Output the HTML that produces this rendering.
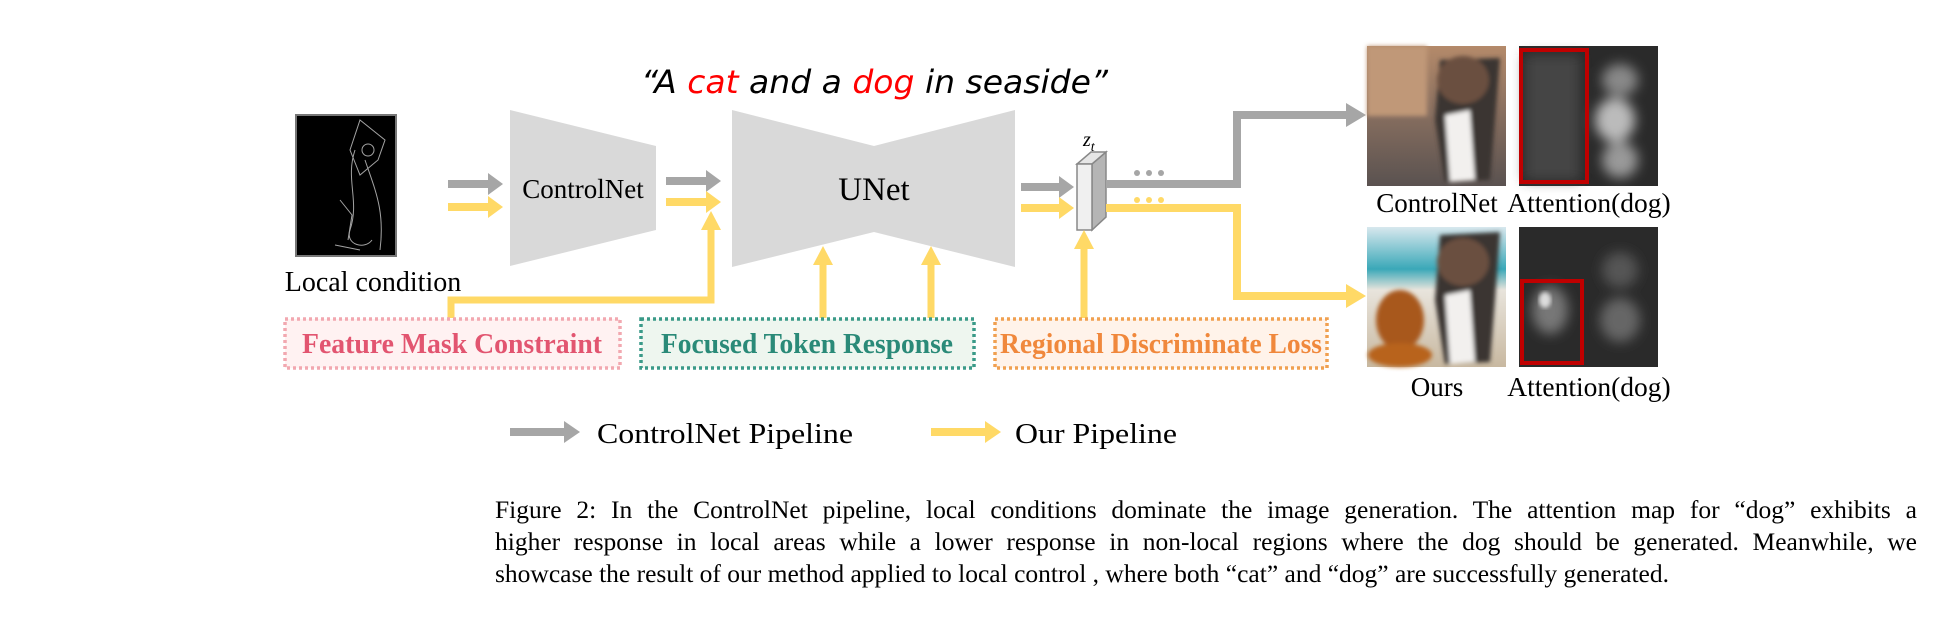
<!DOCTYPE html>
<html><head><meta charset="utf-8"><style>
html,body{margin:0;padding:0;background:#fff;}
#w{position:relative;width:1953px;height:618px;overflow:hidden;}
.cap{position:absolute;left:495px;width:1422px;font-family:"Liberation Serif",serif;font-size:25.5px;color:#000;white-space:nowrap;}
.j{text-align:justify;text-align-last:justify;white-space:normal;}
</style></head><body><div id="w">
<svg width="1953" height="618" viewBox="0 0 1953 618" xmlns="http://www.w3.org/2000/svg" style="position:absolute;left:0;top:0">
<defs>
<filter id="bl" x="-20%" y="-20%" width="140%" height="140%"><feGaussianBlur stdDeviation="6"/></filter>
<filter id="bl2"><feGaussianBlur stdDeviation="2"/></filter>
<linearGradient id="sand" x1="0" y1="0" x2="0" y2="1"><stop offset="0" stop-color="#b48a6a"/><stop offset="0.45" stop-color="#8a7060"/><stop offset="1" stop-color="#5a5250"/></linearGradient>
<linearGradient id="beach" x1="0" y1="0" x2="0" y2="1"><stop offset="0" stop-color="#d8e8ee"/><stop offset="0.3" stop-color="#3aa8b8"/><stop offset="0.45" stop-color="#e8e4dc"/><stop offset="1" stop-color="#c8b8a0"/></linearGradient>
</defs>
<text x="641" y="93" font-family="DejaVu Sans, sans-serif" font-style="oblique" font-size="32" textLength="467" lengthAdjust="spacingAndGlyphs">“A <tspan fill="#ff0000">cat</tspan> and a <tspan fill="#ff0000">dog</tspan> in seaside”</text>
<rect x="296" y="115" width="100" height="141" fill="#000" stroke="#777" stroke-width="2"/>
<g stroke="#ccc" stroke-width="1" fill="none" opacity="0.8">
<path d="M360 120 L385 140 L378 160 L360 175 L350 150 Z"/><path d="M355 150 C345 180 360 200 350 230 C345 245 365 250 372 240"/><path d="M365 160 C375 190 385 210 380 250"/><circle cx="368" cy="150" r="6"/><path d="M340 200 L352 215 L348 240"/><path d="M335 245 L360 250"/>
</g>
<text x="373" y="291" font-family="Liberation Serif, serif" font-size="28" text-anchor="middle">Local condition</text>
<g fill="#a6a6a6"><rect x="448" y="180" width="42" height="8"/><polygon points="488,173 503,184 488,195"/></g>
<g fill="#ffd966"><rect x="448" y="203" width="42" height="8"/><polygon points="488,196 503,207 488,218"/></g>
<polygon points="510,110 656,146 656,230 510,266" fill="#d9d9d9"/>
<text x="583" y="198" font-family="Liberation Serif, serif" font-size="27" text-anchor="middle">ControlNet</text>
<g fill="#a6a6a6"><rect x="666" y="177" width="42" height="8"/><polygon points="706,170 721,181 706,192"/></g>
<g fill="#ffd966"><rect x="666" y="198" width="42" height="8"/><polygon points="706,191 721,202 706,213"/></g>
<polygon points="732,110 874,146 1015,110 1015,267 874,232 732,267" fill="#d9d9d9"/>
<text x="874" y="200" font-family="Liberation Serif, serif" font-size="33" text-anchor="middle">UNet</text>
<g fill="#a6a6a6"><rect x="1021" y="183" width="40" height="8"/><polygon points="1059,176 1074,187 1059,198"/></g>
<g fill="#ffd966"><rect x="1021" y="204" width="40" height="8"/><polygon points="1059,197 1074,208 1059,219"/></g>
<polygon points="1092,164 1106,152 1106,217 1092,230" fill="#b5b5b5" stroke="#888" stroke-width="1.5"/>
<polygon points="1077,164 1092,164 1106,152 1091,152" fill="#e6e6e6" stroke="#888" stroke-width="1.5"/>
<rect x="1077" y="164" width="15" height="66" fill="#f0f0f0" stroke="#888" stroke-width="1.5"/>
<text x="1083" y="146" font-family="Liberation Serif, serif" font-style="italic" font-size="20">z<tspan font-size="14" dy="5">t</tspan></text>
<g fill="#a6a6a6"><circle cx="1137" cy="173" r="3"/><circle cx="1149" cy="173" r="3"/><circle cx="1161" cy="173" r="3"/></g>
<g fill="#ffd966"><circle cx="1137" cy="200" r="3"/><circle cx="1149" cy="200" r="3"/><circle cx="1161" cy="200" r="3"/></g>
<polyline points="1106,184 1237,184 1237,115 1348,115" fill="none" stroke="#a6a6a6" stroke-width="8"/>
<polygon points="1346,103 1366,115 1346,127" fill="#a6a6a6"/>
<polyline points="1106,208 1237,208 1237,296 1348,296" fill="none" stroke="#ffd966" stroke-width="8"/>
<polygon points="1346,284 1366,296 1346,308" fill="#ffd966"/>
<g fill="none" stroke="#ffd966" stroke-width="7">
<polyline points="451,318 451,300 711,300 711,228"/>
<line x1="823" y1="318" x2="823" y2="262"/>
<line x1="931" y1="318" x2="931" y2="262"/>
<line x1="1084" y1="318" x2="1084" y2="246"/>
</g>
<g fill="#ffd966">
<polygon points="701,230 711,211 721,230"/>
<polygon points="813,265 823,246 833,265"/>
<polygon points="921,265 931,246 941,265"/>
<polygon points="1074,249 1084,230 1094,249"/>
</g>
<rect x="285" y="319" width="335" height="49" fill="#fff2f2" stroke="#f2a8b0" stroke-width="3.5" stroke-dasharray="3 3"/>
<text x="452" y="353" font-family="Liberation Serif, serif" font-weight="bold" font-size="28" fill="#e25570" text-anchor="middle" textLength="300" lengthAdjust="spacingAndGlyphs">Feature Mask Constraint</text>
<rect x="641" y="319" width="333" height="49" fill="#eef6ef" stroke="#3a9a88" stroke-width="3.5" stroke-dasharray="3 3"/>
<text x="807" y="353" font-family="Liberation Serif, serif" font-weight="bold" font-size="28" fill="#2a8a78" text-anchor="middle" textLength="292" lengthAdjust="spacingAndGlyphs">Focused Token Response</text>
<rect x="995" y="319" width="332" height="49" fill="#fff3ea" stroke="#f0a050" stroke-width="3.5" stroke-dasharray="3 3"/>
<text x="1161" y="353" font-family="Liberation Serif, serif" font-weight="bold" font-size="28" fill="#f0883c" text-anchor="middle" textLength="322" lengthAdjust="spacingAndGlyphs">Regional Discriminate Loss</text>
<rect x="1367" y="46" width="139" height="140" fill="url(#sand)"/>
<g filter="url(#bl2)">
<rect x="1367" y="46" width="60" height="70" fill="#c09878"/>
<path d="M1440 60 L1500 58 L1495 120 L1490 180 L1445 182 L1435 120 Z" fill="#3a3430"/>
<ellipse cx="1463" cy="80" rx="26" ry="24" fill="#6a5040"/>
<path d="M1445 115 L1470 110 L1475 180 L1450 182 Z" fill="#f2f0ee"/>
</g>
<rect x="1519" y="46" width="139" height="140" fill="#2a2a2a"/>
<g filter="url(#bl)">
<rect x="1525" y="55" width="55" height="125" fill="#444"/>
<ellipse cx="1620" cy="80" rx="18" ry="16" fill="#888"/>
<ellipse cx="1615" cy="120" rx="20" ry="22" fill="#bbb"/>
<ellipse cx="1620" cy="160" rx="18" ry="18" fill="#999"/>
</g>
<rect x="1521" y="50" width="66" height="132" fill="none" stroke="#c00000" stroke-width="4"/>
<text x="1437" y="212" font-family="Liberation Serif, serif" font-size="27" text-anchor="middle">ControlNet</text>
<text x="1589" y="212" font-family="Liberation Serif, serif" font-size="27.5" text-anchor="middle">Attention(dog)</text>
<rect x="1367" y="227" width="139" height="140" fill="url(#beach)"/>
<g filter="url(#bl2)">
<path d="M1440 235 L1500 232 L1495 300 L1490 362 L1445 364 L1435 300 Z" fill="#3a3430"/>
<ellipse cx="1463" cy="262" rx="26" ry="24" fill="#6a5040"/>
<path d="M1445 295 L1470 290 L1475 362 L1450 364 Z" fill="#f2f0ee"/>
<ellipse cx="1400" cy="320" rx="24" ry="30" fill="#a8581e"/>
<ellipse cx="1400" cy="355" rx="32" ry="12" fill="#b8641e"/>
</g>
<rect x="1519" y="227" width="139" height="140" fill="#2a2a2a"/>
<g filter="url(#bl)">
<ellipse cx="1550" cy="310" rx="18" ry="24" fill="#777"/>
<ellipse cx="1620" cy="270" rx="18" ry="18" fill="#555"/>
<ellipse cx="1620" cy="320" rx="20" ry="22" fill="#666"/>
</g>
<ellipse cx="1545" cy="300" rx="6" ry="8" fill="#ddd" filter="url(#bl2)"/>
<rect x="1522" y="281" width="60" height="82" fill="none" stroke="#c00000" stroke-width="4"/>
<text x="1437" y="396" font-family="Liberation Serif, serif" font-size="27" text-anchor="middle">Ours</text>
<text x="1589" y="396" font-family="Liberation Serif, serif" font-size="27.5" text-anchor="middle">Attention(dog)</text>
<g fill="#a6a6a6"><rect x="510" y="428" width="56" height="8"/><polygon points="564,421 580,432 564,443"/></g>
<text x="597" y="443" font-family="Liberation Serif, serif" font-size="28" textLength="256" lengthAdjust="spacingAndGlyphs">ControlNet Pipeline</text>
<g fill="#ffd966"><rect x="931" y="428" width="56" height="8"/><polygon points="985,421 1001,432 985,443"/></g>
<text x="1015" y="443" font-family="Liberation Serif, serif" font-size="28" textLength="162" lengthAdjust="spacingAndGlyphs">Our Pipeline</text>
</svg>
<div class="cap j" style="top:495px">Figure 2: In the ControlNet pipeline, local conditions dominate the image generation. The attention map for “dog” exhibits a</div>
<div class="cap j" style="top:527px">higher response in local areas while a lower response in non-local regions where the dog should be generated. Meanwhile, we</div>
<div class="cap" style="top:559px">showcase the result of our method applied to local control , where both “cat” and “dog” are successfully generated.</div>
</div></body></html>
